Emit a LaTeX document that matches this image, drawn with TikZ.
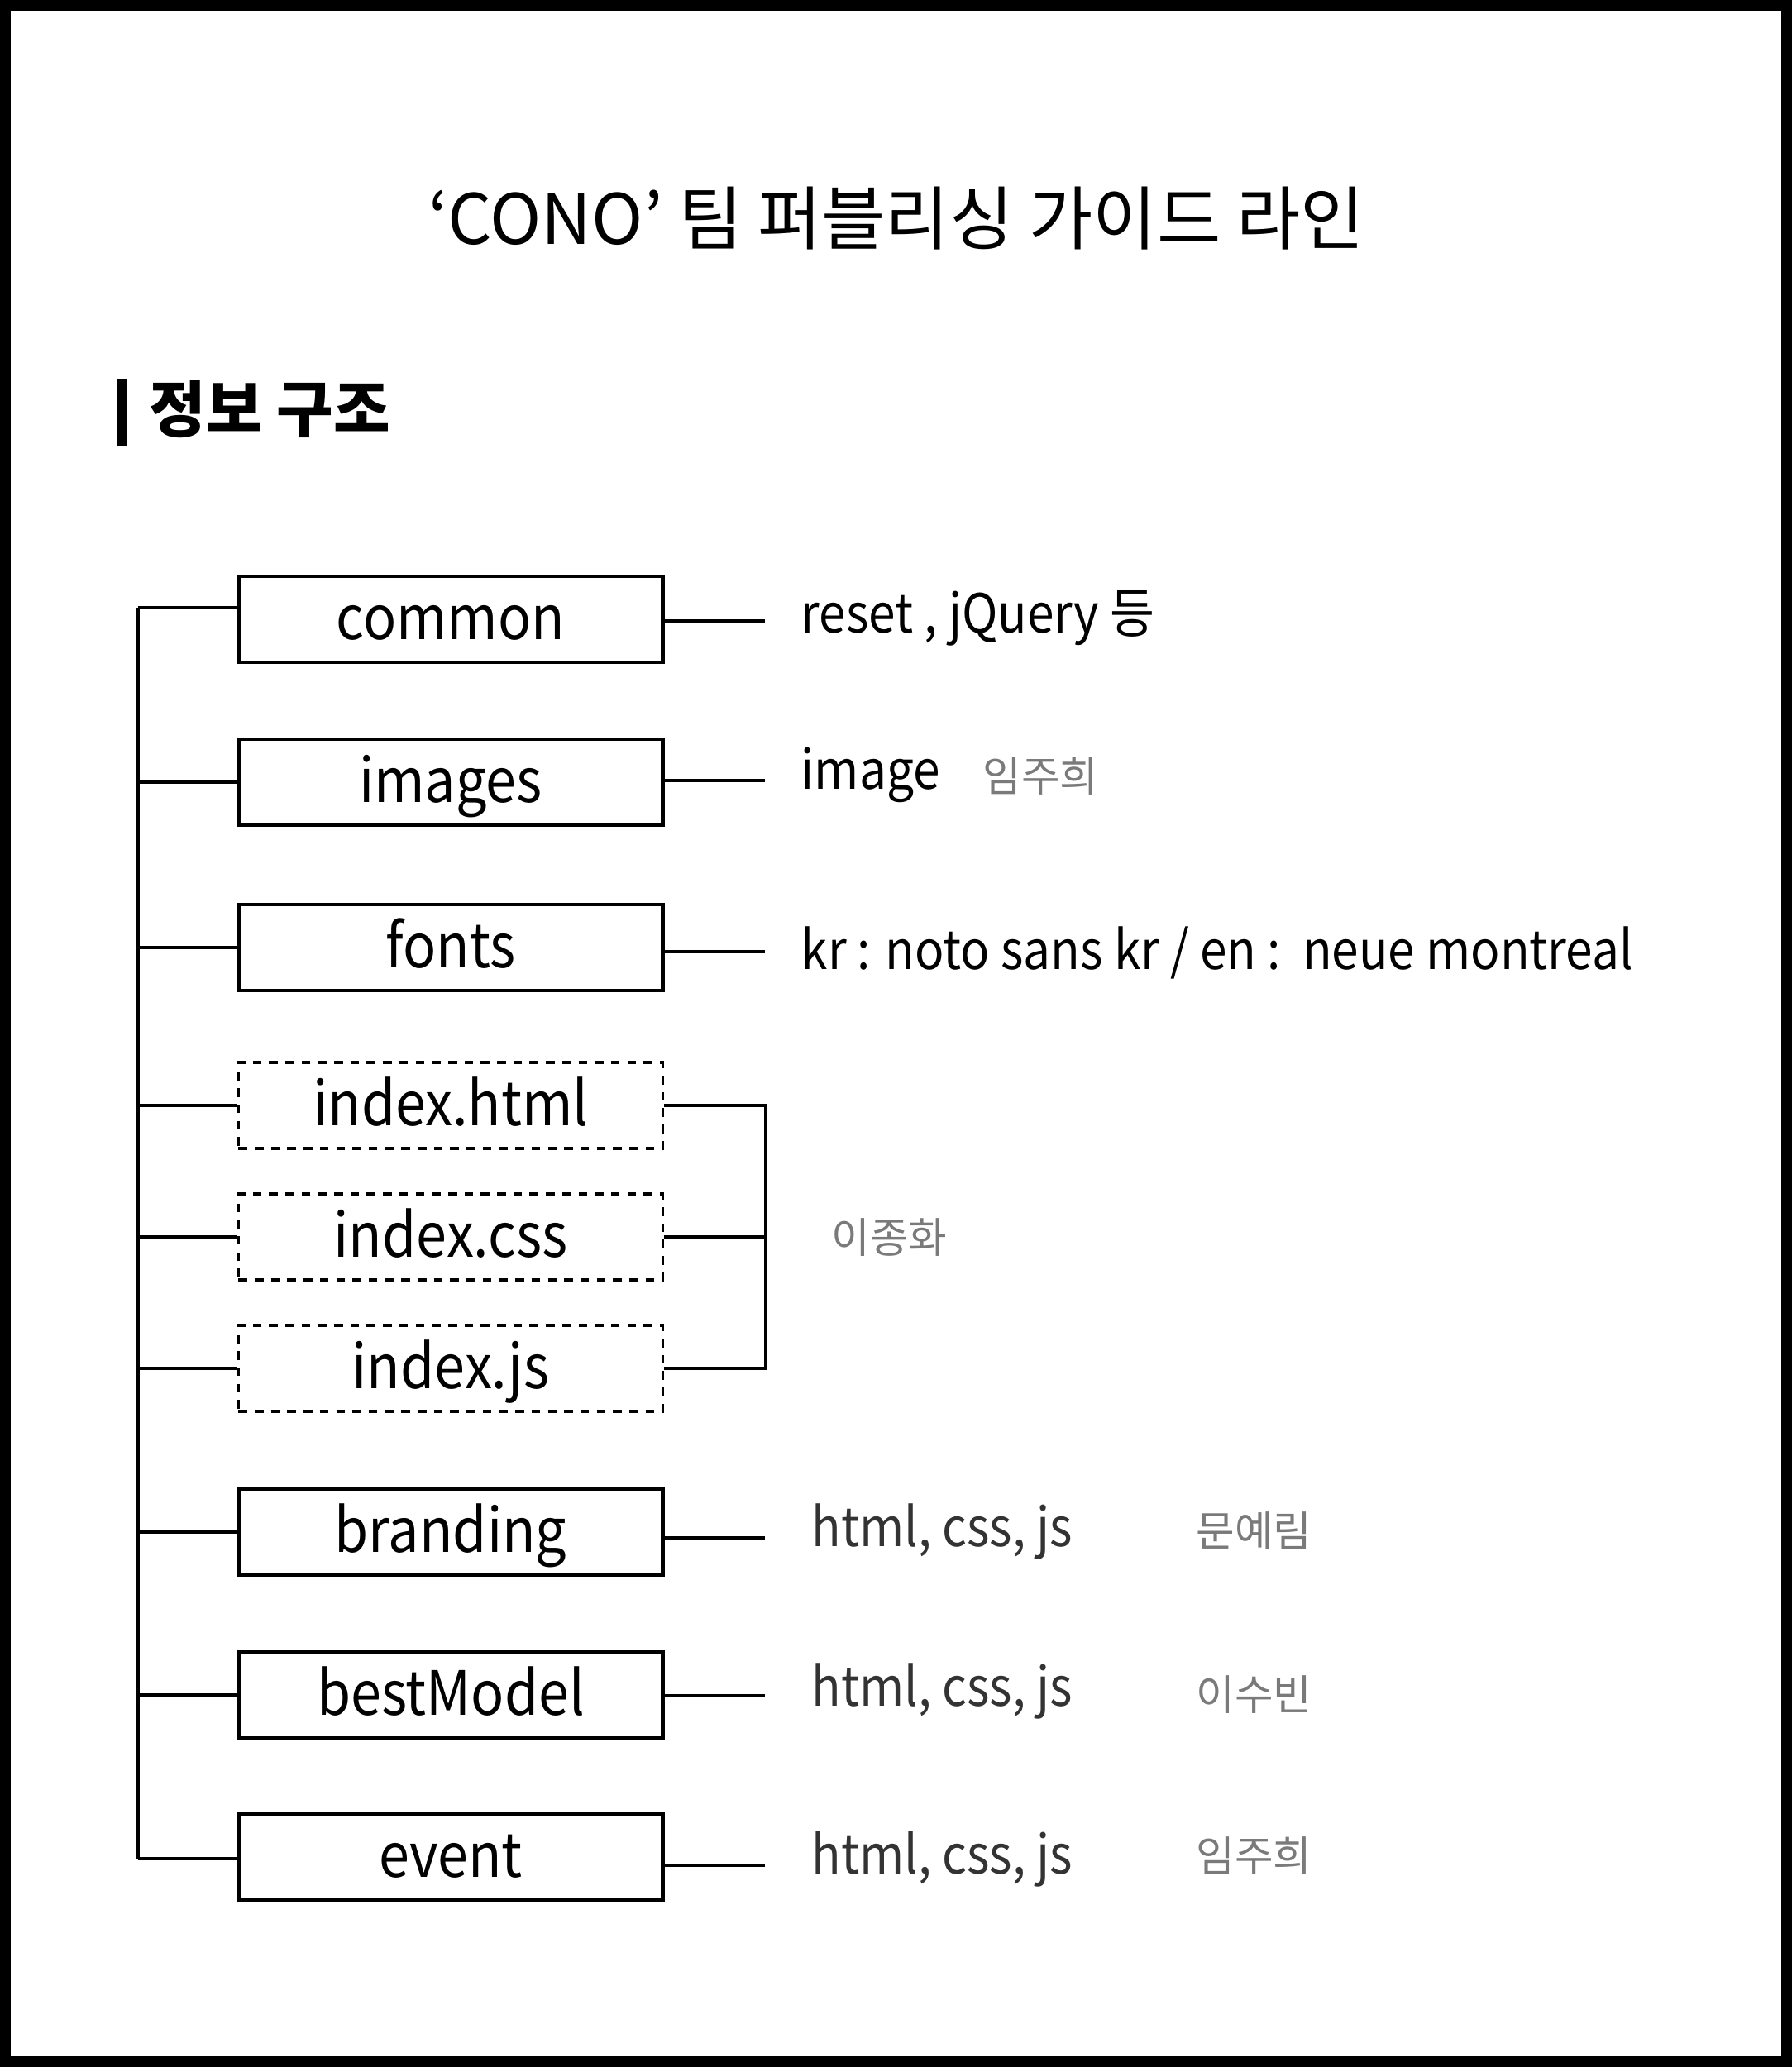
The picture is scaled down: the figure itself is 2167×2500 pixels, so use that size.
\documentclass[tikz,border=0pt]{standalone}
\usepackage{fontspec}
\setmainfont{Noto Sans CJK KR}
\newfontfamily\narrowfont[FakeStretch=0.9]{Noto Sans CJK KR}
\definecolor{namegray}{HTML}{7A7A7A}
\definecolor{labelgray}{HTML}{333333}

\begin{document}
\begin{tikzpicture}[x=0.01cm,y=-0.01cm]
        \tikzstyle{folder}=[draw, line width=1.3pt, minimum width=5.13cm, minimum height=1.04cm, inner sep=0pt, font=\narrowfont\fontsize{21}{25}\selectfont, text height=19pt, text depth=5pt]
        \tikzstyle{page}=[folder, line width=1pt, dash pattern=on 3pt off 2.6pt]
        \tikzstyle{note}=[anchor=base west, inner sep=0pt, font=\narrowfont\fontsize{18.5}{22}\selectfont]
        \tikzstyle{who}=[anchor=base west, inner sep=0pt, text=namegray, font=\fontsize{14.4}{17}\selectfont]
        \tikzstyle{wire}=[line width=1.2pt]
        \useasboundingbox (0,0) rectangle (2167,2500);
        \fill[white] (0,0) rectangle (2167,2500);
        \draw[line width=3.7pt] (6.5,6.5) rectangle (2160.5,2493.5);
        % title and heading
        \node[anchor=base, inner sep=0pt, font=\fontsize{23.9}{28}\selectfont] (title) at (1084,295) {‘CONO’ 팀 퍼블리싱 가이드 라인};
        \fill (141.5,458) rectangle (152.5,539);
        \node[anchor=base west, inner sep=0pt, font=\fontsize{21.2}{25}\selectfont\bfseries] (head) at (180,522) {정보 구조};
        % folders
        \foreach \name/\y/\ry in {common/749/751, images/946/944, fonts/1146/1151, branding/1853/1860, bestModel/2050/2051, event/2246/2256} {
            \node[folder] (\name) at (545,\y) {\name};
            \coordinate (r\name) at (925,\ry);
            \draw[wire] (\name.east |- r\name) -- (r\name);
        }
        \node[page] (html) at (545,1337) {index.html};
        \node[page] (css) at (545,1496) {index.css};
        \node[page] (js) at (545,1655) {index.js};
        % tree trunk
        \coordinate (top) at (167,735);
        \coordinate (bottom) at (167,2248);
        \draw[wire] (top) -- (bottom);
        \draw[wire] (top) -- (top -| common.west);
        \draw[wire] (bottom) -- (bottom -| event.west);
        \foreach \name in {images, fonts, html, css, js, branding, bestModel}
            \draw[wire] (\name.west) -- (\name.west -| top);
        % index bracket
        \coordinate (jtop) at (926,1337);
        \coordinate (jbot) at (926,1655);
        \draw[wire] (html.east) -- (jtop) -- (jbot) -- (js.east);
        \draw[wire] (css.east) -- (css.east -| jtop);
        % notes
        \node[note] (ncommon) at (968,765) {reset , jQuery 등};
        \node[note] (nimages) at (968,954) {image};
        \node[who] (wimages) at (1188,957) {임주희};
        \node[note] (nfonts) at (968,1172) {kr : noto sans kr / en :\ \ neue montreal};
        \node[who] (windex) at (1005,1515) {이종화};
        \node[note, text=labelgray] (nbranding) at (981,1870) {html, css, js};
        \node[note, text=labelgray] (nbestModel) at (981,2063) {html, css, js};
        \node[note, text=labelgray] (nevent) at (981,2266) {html, css, js};
        \node[who] (wbranding) at (1446,1870) {문예림};
        \node[who] (wbestModel) at (1446,2068) {이수빈};
        \node[who] (wevent) at (1446,2263) {임주희};
\end{tikzpicture}
\end{document}
